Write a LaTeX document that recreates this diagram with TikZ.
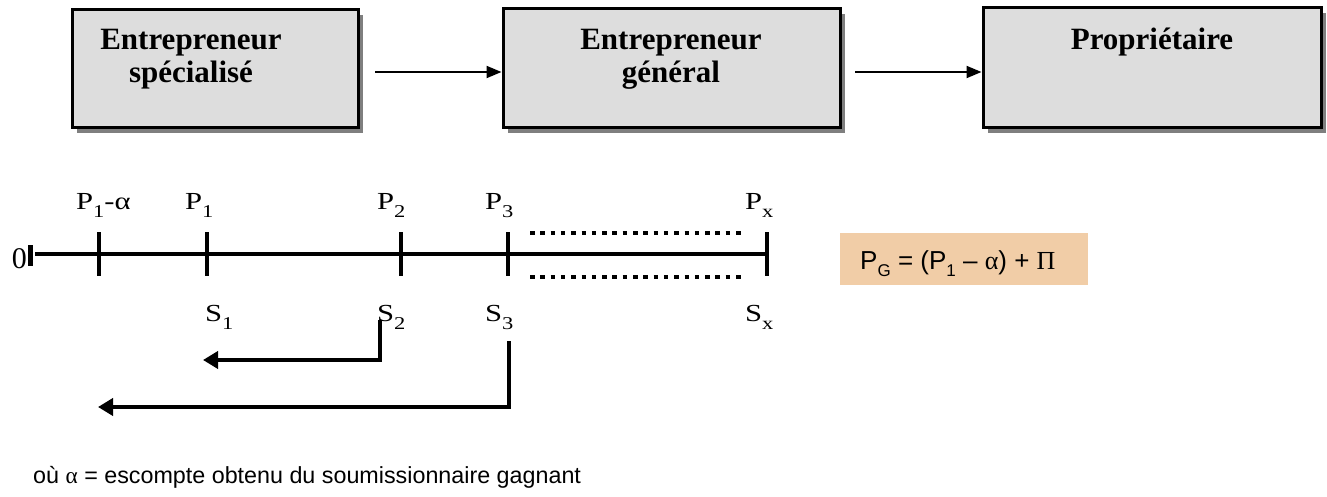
\documentclass[tikz,border=0pt]{standalone}
\usepackage{fontspec}
\setmainfont{Liberation Serif}
\newfontfamily\arialf{Liberation Sans}
\usetikzlibrary{arrows.meta,shadows}
\definecolor{boxgray}{HTML}{DDDDDD}
\definecolor{shadowgray}{HTML}{7F7F7F}
\definecolor{peach}{HTML}{F1CDA7}
\newcommand{\lbsub}[1]{\raisebox{-8pt}{\fontsize{18}{18}\selectfont #1}}
\newcommand{\fsub}[1]{\raisebox{-7pt}{\fontsize{17}{17}\selectfont #1}}
\newcommand{\wide}[1]{\scalebox{1.25}[1]{#1}}
\begin{document}
\begin{tikzpicture}[x=1pt,y=-1pt,
  actor/.style={draw=black, line width=3pt, fill=boxgray,
    drop shadow={shadow xshift=5pt, shadow yshift=-5pt, fill=shadowgray, opacity=1}},
  boxtext/.style={inner sep=0pt, anchor=base, font=\fontsize{31}{33}\selectfont\bfseries},
  lbl/.style={inner sep=0pt, anchor=base west, font=\fontsize{24.5}{26}\selectfont},
  flow/.style={line width=2pt, -{Triangle[length=15pt,width=12pt]}},
  axis/.style={line width=4.5pt},
  tickmark/.style={line width=4.5pt},
  dotline/.style={line width=4.5pt, dash pattern=on 4.5pt off 5.8pt},
  back/.style={line width=4.5pt, -{Triangle[length=15pt,width=17pt]}}
]
\useasboundingbox (0,0) rectangle (1327,497);

% boxes
\node[actor, minimum width=286pt, minimum height=118pt] (b1) at (215,69) {};
\node[actor, minimum width=337pt, minimum height=119pt] (b2) at (671.5,68.5) {};
\node[actor, minimum width=338pt, minimum height=120pt] (b3) at (1152,68) {};

\node[boxtext] (t1a) at (191,50) {Entrepreneur};
\node[boxtext] (t1b) at (191,83) {spécialisé};
\node[boxtext] (t2a) at (671,50) {Entrepreneur};
\node[boxtext] (t2b) at (671,83) {général};
\node[boxtext] (t3a) at (1152,50) {Propriétaire};

\coordinate (a1s) at (375,72);
\coordinate (a2s) at (855,72);
\draw[flow] (a1s) -- (a1s -| b2.west);
\draw[flow] (a2s) -- (a2s -| b3.west);

% number line
\coordinate (o) at (35,254);
\coordinate (tA) at (99,254);
\coordinate (t1) at (207,254);
\coordinate (t2) at (401,254);
\coordinate (t3) at (508,254);
\coordinate (tx) at (767,254);
\draw[axis] (o) -- (tx);
\foreach \c in {tA,t1,t2,t3,tx} {
  \draw[tickmark] ([yshift=22pt]\c) -- ([yshift=-22pt]\c);
}
\draw[line width=5pt] (30.5,245) -- (30.5,266);
\node[inner sep=0pt, anchor=base east, font=\fontsize{30}{30}\selectfont] (zero) at (27,268) {0};

\coordinate (d1s) at (530,233);
\coordinate (d1e) at (746,233);
\coordinate (d2s) at (530,277);
\coordinate (d2e) at (746,277);
\draw[dotline] (d1s) -- (d1e);
\draw[dotline] (d2s) -- (d2e);

% labels
\node[lbl] (pA) at (76,209) {\wide{P\lbsub{1}-α}};
\node[lbl] (p1) at (185,209) {\wide{P\lbsub{1}}};
\node[lbl] (p2) at (377,209) {\wide{P\lbsub{2}}};
\node[lbl] (p3) at (485,209) {\wide{P\lbsub{3}}};
\node[lbl] (px) at (745,209) {\wide{P\lbsub{x}}};
\node[lbl] (s1) at (205,321) {\wide{S\lbsub{1}}};
\node[lbl] (s2) at (377,321) {\wide{S\lbsub{2}}};
\node[lbl] (s3) at (485,321) {\wide{S\lbsub{3}}};
\node[lbl] (sx) at (745,321) {\wide{S\lbsub{x}}};

% return arrows
\coordinate (r1a) at (380,320);
\coordinate (r1b) at (380,360);
\coordinate (r1c) at (203,360);
\coordinate (r2a) at (509,341);
\coordinate (r2b) at (509,407);
\coordinate (r2c) at (98,407);
\draw[back] (r1a) -- (r1b) -- (r1c);
\draw[back] (r2a) -- (r2b) -- (r2c);

% formula
\node[fill=peach, minimum width=248pt, minimum height=52pt, inner sep=0pt] (fbox) at (964,259) {};
\node[inner sep=0pt, anchor=base west, font=\arialf\fontsize{26}{28}\selectfont] (ftext) at (860,269)
  {P\fsub{G} = (P\fsub{1} – {\rmfamily α}) + {\rmfamily Π}};

% note
\node[inner sep=0pt, anchor=base west, font=\arialf\fontsize{23.3}{25}\selectfont] (note) at (33,483)
  {où {\rmfamily α} = escompte obtenu du soumissionnaire gagnant};
\end{tikzpicture}
\end{document}
